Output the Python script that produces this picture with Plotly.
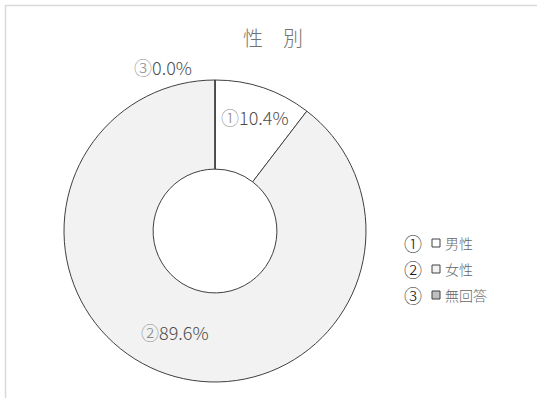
import plotly.graph_objects as go

W, H = 537, 398

# Data
categories = ["男性", "女性", "無回答"]
markers = ["①", "②", "③"]
values = [10.4, 89.6, 0.0]
colors = ["#ffffff", "#f2f2f2", "#bfbfbf"]
title_text = "性　別"

FONT = "Noto Sans CJK JP"


def px(x):
    return x / W


def py(y):
    return 1 - y / H


fig = go.Figure()

# Donut ring, starting at 12 o'clock and running clockwise
fig.add_trace(go.Pie(
    labels=categories,
    values=values,
    sort=False,
    direction="clockwise",
    rotation=0,
    hole=0.41,
    marker=dict(colors=colors, line=dict(color="#404040", width=1)),
    textinfo="none",
    hoverinfo="label+percent",
    showlegend=False,
    domain=dict(x=[px(64), px(366)], y=[py(382), py(80)]),
))

annotations = []

# Slice value labels
label_pos = [(219, 117), (139, 332), (132, 67)]
for m, v, (lx, ly) in zip(markers, values, label_pos):
    annotations.append(dict(
        x=px(lx), y=py(ly), xref="paper", yref="paper",
        xanchor="left", yanchor="middle", showarrow=False,
        text=f"<span style='color:#8c8c8c'>{m}</span>{v:.1f}%",
        font=dict(family=FONT, size=18, color="#4d4d4d", weight=300),
    ))

# Title
annotations.append(dict(
    x=px(273), y=py(38), xref="paper", yref="paper",
    xanchor="center", yanchor="middle", showarrow=False,
    text=title_text,
    font=dict(family=FONT, size=20, color="#737373", weight=300),
))

shapes = [
    # outer chart frame
    dict(type="rect", xref="paper", yref="paper",
         x0=px(5.5), x1=px(560), y0=py(420), y1=py(5.5),
         line=dict(color="#d9d9d9", width=1.5), fillcolor="rgba(0,0,0,0)"),
]

# Legend: circled number, swatch, category name
row_y = [243, 269, 295]
for m, c, col, ry in zip(markers, categories, colors, row_y):
    annotations.append(dict(
        x=px(413), y=py(ry), xref="paper", yref="paper",
        xanchor="center", yanchor="middle", showarrow=False,
        text=m, font=dict(family=FONT, size=18, color="#1a1a1a", weight=300),
    ))
    shapes.append(dict(
        type="rect", xref="paper", yref="paper",
        x0=px(432), x1=px(440), y0=py(ry + 4), y1=py(ry - 4),
        line=dict(color="#404040", width=1), fillcolor=col,
    ))
    annotations.append(dict(
        x=px(443), y=py(ry), xref="paper", yref="paper",
        xanchor="left", yanchor="middle", showarrow=False,
        text=c, font=dict(family=FONT, size=14, color="#666666", weight=300),
    ))

fig.update_layout(
    width=W, height=H,
    margin=dict(l=0, r=0, t=0, b=0),
    paper_bgcolor="#ffffff",
    plot_bgcolor="#ffffff",
    annotations=annotations,
    shapes=shapes,
)

fig.write_html("out.html")
